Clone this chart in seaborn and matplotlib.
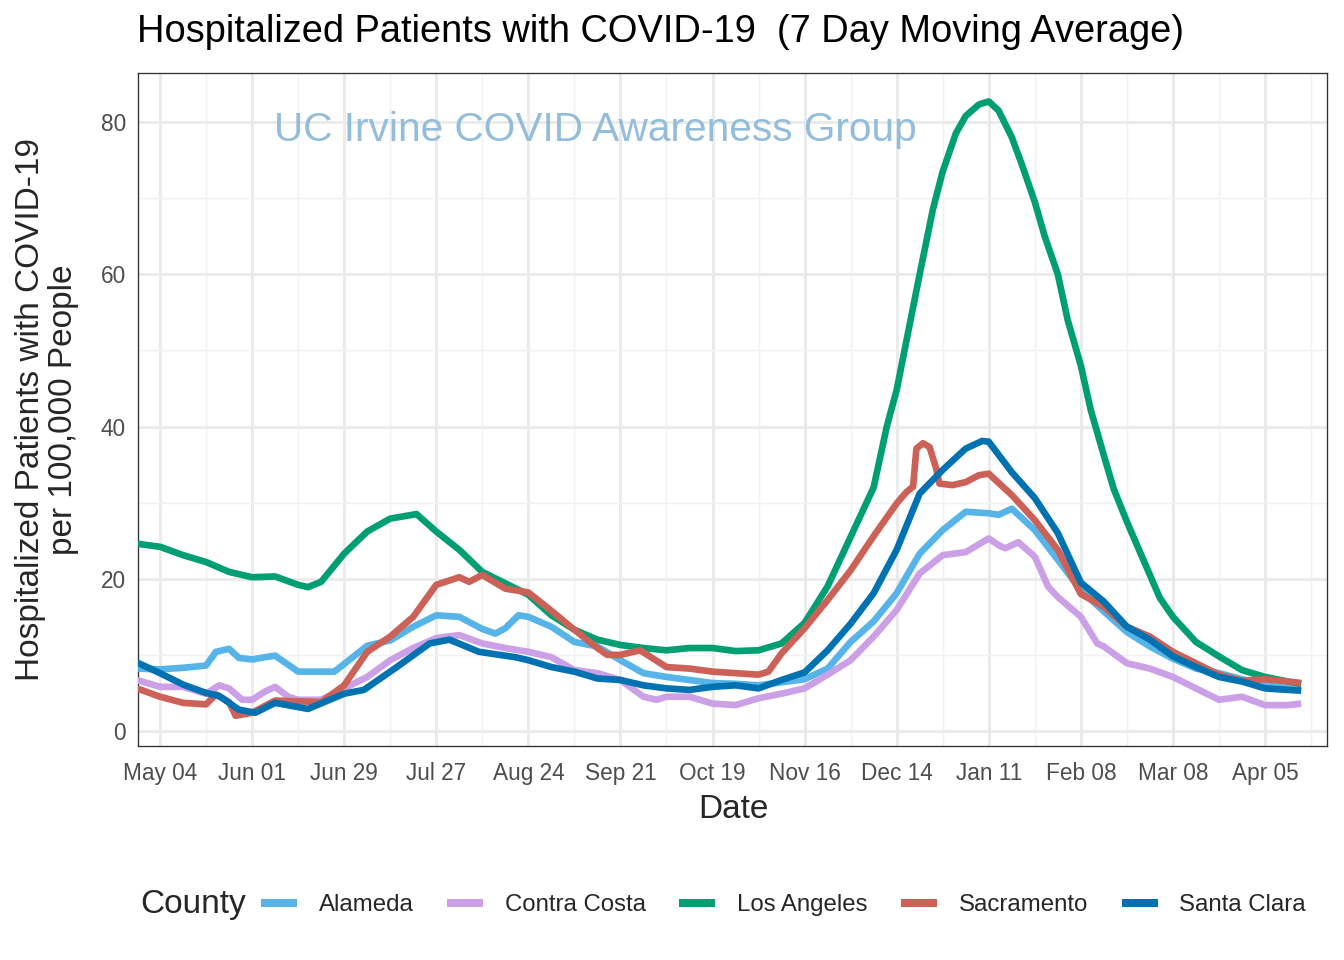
import numpy as np
import pandas as pd
import matplotlib
matplotlib.use("Agg")
import matplotlib.pyplot as plt
import matplotlib.dates as mdates
import seaborn as sns
from matplotlib.lines import Line2D

# ---------------- data ----------------
counties = ["Alameda", "Contra Costa", "Los Angeles", "Sacramento", "Santa Clara"]
colors = ["#56B4E9", "#CCA0E6", "#009E73", "#CC6158", "#0072B2"]

alameda_dates = ["2020-04-27", "2020-05-04", "2020-05-11", "2020-05-18", "2020-05-21", "2020-05-25",
                 "2020-05-28", "2020-06-01", "2020-06-05", "2020-06-08", "2020-06-15", "2020-06-22",
                 "2020-06-26", "2020-06-29", "2020-07-06", "2020-07-13", "2020-07-20", "2020-07-27",
                 "2020-08-03", "2020-08-10", "2020-08-14", "2020-08-17", "2020-08-21", "2020-08-24",
                 "2020-08-31", "2020-09-07", "2020-09-14", "2020-09-21", "2020-09-28", "2020-10-05",
                 "2020-10-12", "2020-10-19", "2020-10-26", "2020-11-02", "2020-11-09", "2020-11-16",
                 "2020-11-23", "2020-11-30", "2020-12-07", "2020-12-14", "2020-12-21", "2020-12-28",
                 "2021-01-04", "2021-01-11", "2021-01-14", "2021-01-18", "2021-01-25", "2021-02-01",
                 "2021-02-08", "2021-02-15", "2021-02-22", "2021-03-01", "2021-03-08", "2021-03-15",
                 "2021-03-22", "2021-03-29", "2021-04-05", "2021-04-12", "2021-04-16"]
alameda_vals = [8.2, 8.1, 8.3, 8.6, 10.4, 10.8, 9.6, 9.4, 9.7, 9.9, 7.8, 7.8,
                7.8, 8.8, 11.2, 11.9, 13.7, 15.2, 15.0, 13.4, 12.8, 13.5, 15.2, 15.0,
                13.7, 11.7, 11.1, 9.3, 7.6, 7.1, 6.7, 6.3, 6.2, 6.0, 6.4, 6.8,
                8.2, 11.7, 14.4, 18.1, 23.3, 26.4, 28.8, 28.6, 28.4, 29.2, 26.4, 22.5,
                18.5, 15.7, 13.0, 11.1, 9.5, 8.2, 7.6, 6.8, 6.0, 5.6, 5.5]

contra_dates = ["2020-04-27", "2020-05-04", "2020-05-11", "2020-05-18", "2020-05-22", "2020-05-25",
                "2020-05-29", "2020-06-01", "2020-06-05", "2020-06-08", "2020-06-12", "2020-06-15",
                "2020-06-22", "2020-06-29", "2020-07-06", "2020-07-13", "2020-07-20", "2020-07-27",
                "2020-08-03", "2020-08-10", "2020-08-17", "2020-08-24", "2020-08-31", "2020-09-07",
                "2020-09-14", "2020-09-21", "2020-09-28", "2020-10-02", "2020-10-05", "2020-10-12",
                "2020-10-19", "2020-10-26", "2020-11-02", "2020-11-09", "2020-11-16", "2020-11-23",
                "2020-11-30", "2020-12-07", "2020-12-14", "2020-12-21", "2020-12-28", "2021-01-04",
                "2021-01-11", "2021-01-14", "2021-01-16", "2021-01-20", "2021-01-25", "2021-01-29",
                "2021-02-01", "2021-02-08", "2021-02-13", "2021-02-15", "2021-02-22", "2021-03-01",
                "2021-03-08", "2021-03-15", "2021-03-22", "2021-03-29", "2021-04-05", "2021-04-12",
                "2021-04-16"]
contra_vals = [6.7, 5.8, 5.8, 4.9, 6.0, 5.6, 4.1, 4.1, 5.2, 5.8, 4.5, 4.1,
               4.1, 5.6, 7.1, 9.3, 10.9, 12.2, 12.6, 11.5, 10.9, 10.4, 9.7, 8.0,
               7.6, 6.7, 4.5, 4.1, 4.5, 4.5, 3.6, 3.4, 4.3, 4.9, 5.6, 7.4,
               9.3, 12.4, 15.9, 20.7, 23.1, 23.5, 25.3, 24.4, 24.0, 24.8, 22.9, 19.0,
               17.6, 15.0, 11.5, 11.1, 8.9, 8.2, 7.1, 5.6, 4.1, 4.5, 3.4, 3.4,
               3.6]

la_dates = ["2020-04-27", "2020-05-04", "2020-05-11", "2020-05-18", "2020-05-25", "2020-06-01",
            "2020-06-08", "2020-06-15", "2020-06-18", "2020-06-22", "2020-06-29", "2020-07-06",
            "2020-07-13", "2020-07-21", "2020-07-27", "2020-08-03", "2020-08-10", "2020-08-17",
            "2020-08-24", "2020-08-31", "2020-09-07", "2020-09-14", "2020-09-21", "2020-09-28",
            "2020-10-05", "2020-10-12", "2020-10-19", "2020-10-26", "2020-11-02", "2020-11-09",
            "2020-11-16", "2020-11-23", "2020-11-30", "2020-12-07", "2020-12-11", "2020-12-14",
            "2020-12-18", "2020-12-21", "2020-12-25", "2020-12-28", "2021-01-01", "2021-01-04",
            "2021-01-08", "2021-01-11", "2021-01-14", "2021-01-18", "2021-01-21", "2021-01-25",
            "2021-01-28", "2021-02-01", "2021-02-04", "2021-02-08", "2021-02-11", "2021-02-15",
            "2021-02-18", "2021-02-22", "2021-03-01", "2021-03-04", "2021-03-08", "2021-03-15",
            "2021-03-22", "2021-03-29", "2021-04-05", "2021-04-12", "2021-04-16"]
la_vals = [24.6, 24.2, 23.1, 22.2, 20.9, 20.2,
           20.3, 19.2, 18.9, 19.6, 23.3, 26.2,
           27.9, 28.5, 26.2, 23.8, 20.9, 19.4,
           17.9, 15.2, 13.3, 12.0, 11.3, 10.9,
           10.6, 10.9, 10.9, 10.5, 10.6, 11.5,
           14.2, 19.0, 25.5, 32.0, 40.0, 44.8,
           53.5, 60.0, 68.5, 73.5, 78.5, 80.8,
           82.3, 82.7, 81.5, 78.0, 74.5, 69.5,
           65.0, 60.0, 54.0, 48.0, 42.2, 36.2,
           31.8, 27.5, 20.5, 17.5, 15.0, 11.7,
           9.8, 8.0, 7.1, 6.5, 6.2]

sac_dates = ["2020-04-27", "2020-05-04", "2020-05-11", "2020-05-18", "2020-05-21", "2020-05-25",
             "2020-05-27", "2020-06-01", "2020-06-08", "2020-06-15", "2020-06-22", "2020-06-29",
             "2020-07-06", "2020-07-13", "2020-07-20", "2020-07-27", "2020-08-03", "2020-08-06",
             "2020-08-10", "2020-08-17", "2020-08-24", "2020-08-31", "2020-09-07", "2020-09-14",
             "2020-09-17", "2020-09-21", "2020-09-27", "2020-10-05", "2020-10-12", "2020-10-19",
             "2020-10-26", "2020-11-02", "2020-11-05", "2020-11-09", "2020-11-16", "2020-11-23",
             "2020-11-30", "2020-12-07", "2020-12-14", "2020-12-17", "2020-12-19", "2020-12-20",
             "2020-12-22", "2020-12-24", "2020-12-26", "2020-12-27", "2020-12-31", "2021-01-04",
             "2021-01-08", "2021-01-11", "2021-01-18", "2021-01-25", "2021-02-01", "2021-02-08",
             "2021-02-15", "2021-02-22", "2021-03-01", "2021-03-08", "2021-03-15", "2021-03-22",
             "2021-03-29", "2021-04-05", "2021-04-12", "2021-04-16"]
sac_vals = [5.6, 4.5, 3.7, 3.5, 4.8, 3.8,
            2.0, 2.4, 4.0, 3.9, 3.8, 6.0,
            10.4, 12.4, 15.0, 19.2, 20.2, 19.6,
            20.5, 18.7, 18.2, 15.8, 13.3, 10.9,
            10.0, 10.0, 10.6, 8.4, 8.2, 7.8,
            7.6, 7.4, 7.8, 10.2, 13.5, 17.2,
            21.1, 25.6, 29.9, 31.4, 32.1, 37.1,
            37.8, 37.3, 34.5, 32.5, 32.3, 32.7,
            33.6, 33.8, 31.0, 27.7, 23.8, 18.0,
            16.3, 13.7, 12.4, 10.4, 8.9, 7.4,
            6.6, 6.8, 6.5, 6.3]

sc_dates = ["2020-04-27", "2020-05-04", "2020-05-11", "2020-05-18", "2020-05-22", "2020-05-28",
            "2020-06-02", "2020-06-08", "2020-06-18", "2020-06-29", "2020-07-05", "2020-07-15",
            "2020-07-25", "2020-07-31", "2020-08-09", "2020-08-20", "2020-08-24", "2020-08-31",
            "2020-09-07", "2020-09-14", "2020-09-21", "2020-09-28", "2020-10-05", "2020-10-12",
            "2020-10-19", "2020-10-26", "2020-11-02", "2020-11-09", "2020-11-16", "2020-11-23",
            "2020-11-30", "2020-12-07", "2020-12-14", "2020-12-21", "2020-12-28", "2021-01-04",
            "2021-01-09", "2021-01-11", "2021-01-18", "2021-01-25", "2021-02-01", "2021-02-08",
            "2021-02-15", "2021-02-22", "2021-03-01", "2021-03-08", "2021-03-15", "2021-03-22",
            "2021-03-29", "2021-04-05", "2021-04-12", "2021-04-16"]
sc_vals = [9.0, 7.6, 6.1, 5.0, 4.6, 2.8,
           2.4, 3.7, 2.9, 4.9, 5.4, 8.4,
           11.5, 12.0, 10.4, 9.7, 9.3, 8.4,
           7.8, 6.9, 6.7, 6.0, 5.6, 5.4,
           5.8, 6.0, 5.6, 6.7, 7.7, 10.6,
           14.1, 18.1, 23.8, 31.2, 34.3, 37.1,
           38.1, 38.0, 34.0, 30.6, 26.0, 19.5,
           17.0, 13.7, 12.0, 9.8, 8.4, 7.1,
           6.5, 5.6, 5.4, 5.3]

series = {
    "Alameda": (alameda_dates, alameda_vals),
    "Contra Costa": (contra_dates, contra_vals),
    "Los Angeles": (la_dates, la_vals),
    "Sacramento": (sac_dates, sac_vals),
    "Santa Clara": (sc_dates, sc_vals),
}
frames = []
for name, (d, v) in series.items():
    frames.append(pd.DataFrame({"Date": pd.to_datetime(d), "Value": v, "County": name}))
df = pd.concat(frames, ignore_index=True)

tick_dates = pd.date_range("2020-05-04", "2021-04-05", freq="28D")
minor_dates = pd.date_range("2020-04-20", "2021-04-19", freq="14D")

# ---------------- plot ----------------
sns.set_style("white")
plt.rcParams["font.family"] = ["Liberation Sans", "DejaVu Sans"]

W, H = 1344, 960
fig = plt.figure(figsize=(W / 96, H / 96), dpi=96)
ax = fig.add_axes([138 / W, 1 - 746 / H, (1327 - 138) / W, (746 - 73) / H])

palette = dict(zip(counties, colors))
sns.lineplot(data=df, x="Date", y="Value", hue="County", hue_order=counties,
             palette=palette, linewidth=5.0, ax=ax, legend=False, sort=True,
             solid_capstyle="butt", solid_joinstyle="round", zorder=3)

ax.set_xticks(mdates.date2num(tick_dates))
ax.set_xticks(mdates.date2num(minor_dates), minor=True)
ax.xaxis.set_major_formatter(mdates.DateFormatter("%b %d"))
ax.set_yticks([0, 20, 40, 60, 80])
ax.set_yticks([10, 30, 50, 70], minor=True)

# axis limits (pixel mapping of reference) -- set after ticks
px_per_day = (1265 - 160) / 336.0
origin = mdates.date2num(pd.Timestamp("2020-05-04"))
ax.set_xlim(origin + (138 - 160) / px_per_day, origin + (1327 - 160) / px_per_day)
ppu = (731 - 122) / 80.0
ax.set_ylim((731 - 746) / ppu, (731 - 73) / ppu)

ax.grid(which="major", color="#EBEBEB", linewidth=2.2, zorder=0)
ax.grid(which="minor", color="#F2F2F2", linewidth=1.1, zorder=0)
ax.set_axisbelow(True)
for s in ax.spines.values():
    s.set_color("#333333")
    s.set_linewidth(1.0)
ax.tick_params(axis="x", which="major", length=5, width=1.5, color="#333333",
               labelsize=17, labelcolor="#4D4D4D", pad=7)
ax.tick_params(axis="y", which="major", length=5, width=1.5, color="#333333",
               labelsize=17, labelcolor="#4D4D4D", pad=4)
ax.tick_params(which="minor", length=0)
ax.set_xlabel("")
ax.set_ylabel("")

# watermark
ax.text(595, H - 130, "UC Irvine COVID Awareness Group", transform=None,
        fontsize=30.5, color="#93BDDA", ha="center", va="center", zorder=1)

# title and axis labels
fig.text(137 / W, 1 - 32 / H, "Hospitalized Patients with COVID-19  (7 Day Moving Average)",
         fontsize=28.5, ha="left", va="center", color="black")
fig.text(733 / W, 1 - 810 / H, "Date", fontsize=25, ha="center", va="center")
fig.text(47 / W, 1 - 410 / H, "Hospitalized Patients with COVID-19\nper 100,000 People",
         fontsize=25, rotation=90, ha="center", va="center", multialignment="center",
         linespacing=1.08)

# legend
fig.text(140 / W, 1 - 905 / H, "County", fontsize=25, ha="left", va="center")
handles = [Line2D([0], [0], color=c, linewidth=6.0, solid_capstyle="butt") for c in colors]
fig.legend(handles, counties, loc="center left", bbox_to_anchor=(261 / W, 1 - 905 / H),
           ncol=5, frameon=False, fontsize=18, handlelength=1.5, handletextpad=0.9,
           columnspacing=1.4, borderaxespad=0, borderpad=0)

fig.savefig("out.png", dpi=96)
